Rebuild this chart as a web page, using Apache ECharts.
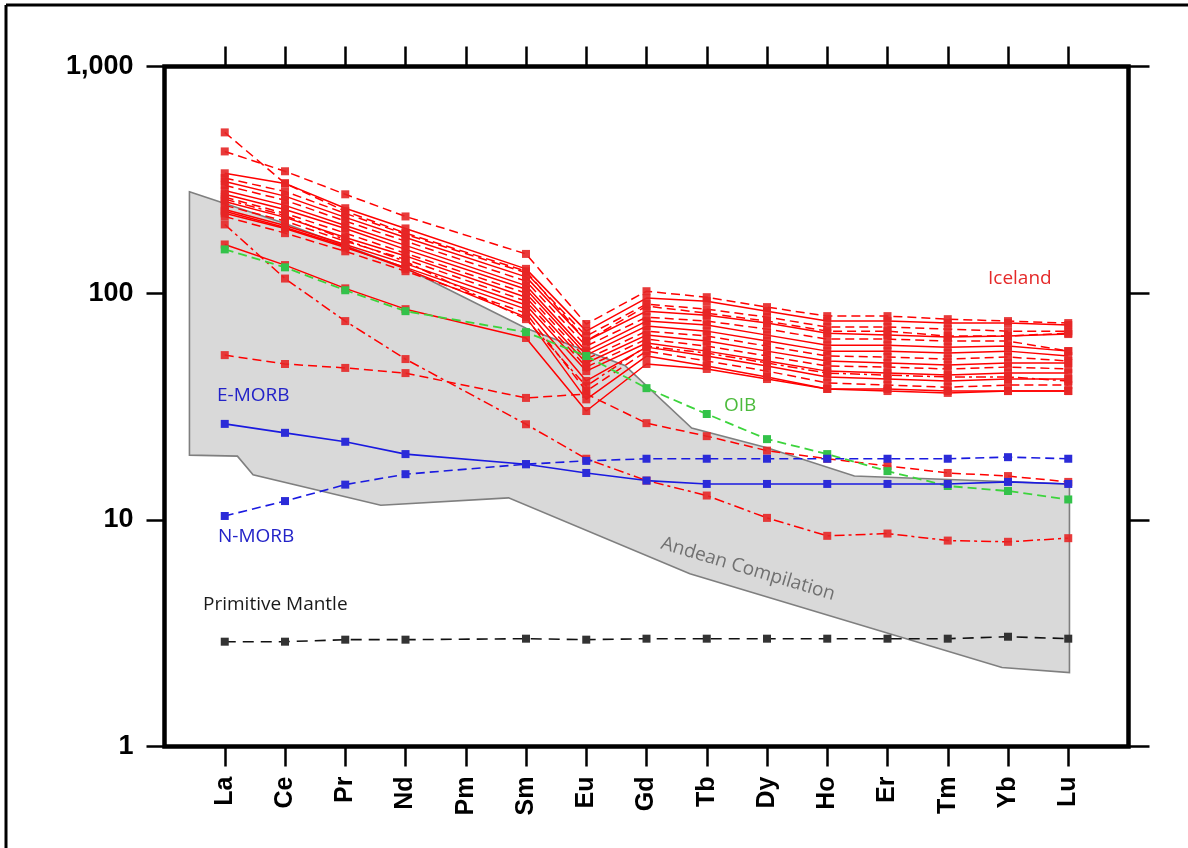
<!DOCTYPE html>
<html>
<head>
<meta charset="utf-8">
<script src="https://cdn.jsdelivr.net/npm/echarts@6/dist/echarts.min.js"></script>
<style>
  html, body { margin: 0; padding: 0; background: #fff; }
  #chart { width: 1188px; height: 848px; }
</style>
</head>
<body>
<div id="chart"></div>
<script>
// Rare earth elements, chondrite-normalised (Pm not analysed)
const ELEMENTS = ['La','Ce','Pr','Nd','Pm','Sm','Eu','Gd','Tb','Dy','Ho','Er','Tm','Yb','Lu'];
const Y_TICKS = [1, 10, 100, 1000];

// Iceland basalt samples (one array per sample, in ELEMENTS order)
const ICELAND = [
  [512, 305, 230, 184, null, 125, 61.5, 87.7, 81.6, 75.3, 68, 68, 64.7, 64.7, 66.6],
  [422, 345, 273, 218, null, 149, 73.1, 102, 96, 86.8, 79.2, 79.2, 76.8, 75.3, 73.8],
  [338, 305, 237, 193, null, 128, 68, 95.1, 92.2, 83.3, 75.3, 75.3, 73.8, 73.8, 72.3],
  [322, 281, 225, 182, null, 123, 64.7, 89.5, 85, 78.4, 70.9, 70.9, 69.4, 68, 68],
  [311, 268, 216, 176, null, 118, 61.5, 83.3, 80, 73.8, 66.6, 65.3, 64, 64.7, 66],
  [299, 257, 208, 169.5, null, 113, 58.4, 78.4, 75.3, 69.4, 62.7, 62.7, 61.5, 61.5, 55.5],
  [284, 244, 199, 162.5, null, 108, 55.5, 75.3, 72.3, 65.3, 58.9, 58.9, 57.8, 58.4, 55.5],
  [273, 234, 193, 156, null, 104, 53.3, 71.6, 68, 61.5, 55.5, 55.5, 54.4, 55.5, 52.8],
  [265, 225, 184, 150, null, 100, 51.2, 68, 64.7, 58.4, 52.8, 52.3, 51.2, 52.3, 50.2],
  [254, 216, 176, 146, null, 96, 49.2, 65.3, 61.5, 55.5, 50.2, 49.2, 48.2, 49.2, 49.2],
  [244, 208, 169.5, 141, null, 92.2, 47.2, 62.7, 58.4, 52.8, 47.7, 47.2, 46.3, 47.2, 46.3],
  [234, 199, 164, 135, null, 88.6, 45.3, 60.3, 55.5, 50.2, 45.3, 44.4, 43.5, 44.4, 44.4],
  [225, 193, 159, 130, null, 85, 41, 57.8, 52.8, 47.7, 42.7, 41.8, 41, 41.8, 41.8],
  [218, 184, 153, 125, null, 81.6, 37, 55.5, 50.2, 45.3, 40.2, 39.3, 38.5, 39.3, 39.3],
  [230, 195, 161, 128, null, 78.4, 34, 52.8, 47.7, 42.7, 37.8, 37.8, 37, 37, 37],
  [260, 220, 172, 138, null, 76.8, 38.9, 58.4, 54.4, 49.2, 44.4, 43.5, 42.7, 42.7, 41],
  [164, 133, 105, 85, null, 63.4, 30.2, 48.7, 46.3, 41.8, 37.8, 37, 36.3, 37, 37],
  [201, 116, 75.3, 51.2, null, 26.4, 18.6, 14.9, 12.8, 10.2, 8.5, 8.7, 8.1, 8.0, 8.3],
  [53.3, 48.7, 46.8, 44.4, null, 34.5, 35.9, 26.7, 23.4, 20.2, 18.6, 17.3, 16.1, 15.6, 14.7]
];
const ICELAND_LINE = ['dashed','dashed','solid','dashed','solid','dashed','solid','solid','dashed','solid',
                      'dashed','solid','solid','dashed','solid','dashdot','solid','dashdot','dashed'];

const OIB    = [156, 130, 103, 83.3, null, 67.3, 52.8, 38.1, 29.3, 22.7, 19.5, 16.4, 14.1, 13.4, 12.3];
const E_MORB = [26.5, 24.2, 22.1, 19.5, null, 17.6, 16.1, 14.9, 14.4, 14.4, 14.4, 14.4, 14.4, 14.7, 14.4];
const N_MORB = [10.4, 12.1, 14.3, 15.9, null, 17.6, 18.2, 18.6, 18.6, 18.6, 18.6, 18.6, 18.6, 18.9, 18.6];
const PRIMITIVE_MANTLE = [2.90, 2.90, 2.96, 2.96, null, 2.99, 2.96, 2.99, 2.99, 2.99, 2.99, 2.99, 2.99, 3.05, 2.99];

// Andean compilation envelope: element position (La = 0) and normalised value
const ANDEAN_POS = [-0.586, 1, 3, 5, 6.64, 7.75, 9, 10.45, 14.02, 14.02, 12.9, 7.72, 4.71, 2.59, 0.47, 0.21, -0.586];
const ANDEAN_VAL = [280, 203, 129, 70, 48, 25.4, 20.8, 15.6, 14.4, 2.12, 2.23, 5.78, 12.5, 11.6, 15.8, 19.1, 19.3];

const DASHES = { solid: 'solid', dashed: [9, 5], dashdot: [10, 4, 3, 4], mantle: [11, 7] };
const IDX = ELEMENTS.map((_, i) => i);

function toPoints(vals) {
  return vals.map((v, i) => (v == null ? null : [i, v])).filter(Boolean);
}

function lineSeries(vals, color, dash, width, symbolColor) {
  return {
    type: 'line',
    data: toPoints(vals),
    symbol: 'rect',
    symbolSize: 8,
    showAllSymbol: true,
    lineStyle: { color: color, width: width, type: dash },
    itemStyle: { color: symbolColor || color },
    silent: true,
    animation: false,
    z: 3
  };
}

const series = [];

// grey envelope
series.push({
  type: 'custom',
  data: ANDEAN_POS.map((x, i) => [x, ANDEAN_VAL[i]]),
  renderItem: function (params, api) {
    if (params.dataIndex !== 0) return null;
    const pts = ANDEAN_POS.map((x, i) => api.coord([x, ANDEAN_VAL[i]]));
    return {
      type: 'polygon',
      shape: { points: pts },
      style: { fill: '#d9d9d9', stroke: '#7f7f7f', lineWidth: 1.6 }
    };
  },
  silent: true,
  animation: false,
  z: 1
});

ICELAND.forEach((vals, k) => {
  series.push(lineSeries(vals, '#ff0000', DASHES[ICELAND_LINE[k]], 1.5, 'rgba(230,38,38,0.9)'));
});
series.push(lineSeries(OIB, '#3cd43c', DASHES.dashed, 1.8, '#33c24a'));
series.push(lineSeries(E_MORB, '#1a1ae0', DASHES.solid, 1.6, '#2b2bd8'));
series.push(lineSeries(N_MORB, '#1a1ae0', DASHES.dashed, 1.6, '#2b2bd8'));
series.push(lineSeries(PRIMITIVE_MANTLE, '#111111', DASHES.mantle, 1.6, '#333333'));

const tickStyle = { color: '#000', width: 2.5 };
const labelFont = { color: '#000', fontWeight: 'bold', fontFamily: 'Liberation Sans, Arial, sans-serif' };

const option = {
  backgroundColor: '#fff',
  animation: false,
  grid: {
    left: 164.5, right: 59.5, top: 66.5, bottom: 101.5,
    show: true, borderColor: '#000', borderWidth: 4.5, backgroundColor: '#fff'
  },
  xAxis: [
    {
      type: 'value', min: -1, max: 15, position: 'bottom',
      axisLine: { show: false, onZero: false }, splitLine: { show: false },
      axisTick: { show: true, length: 20, lineStyle: tickStyle, customValues: IDX },
      axisLabel: Object.assign({
        customValues: IDX, formatter: v => ELEMENTS[Math.round(v)] || '',
        rotate: 90, margin: 30, fontSize: 25
      }, labelFont)
    },
    {
      type: 'value', min: -1, max: 15, position: 'top',
      axisLine: { show: false, onZero: false }, splitLine: { show: false },
      axisTick: { show: true, length: 20, lineStyle: tickStyle, customValues: IDX },
      axisLabel: { show: false }
    }
  ],
  yAxis: [
    {
      type: 'log', logBase: 10, min: Y_TICKS[0], max: Y_TICKS[Y_TICKS.length - 1], position: 'left',
      axisLine: { show: false, onZero: false }, splitLine: { show: false },
      axisTick: { show: true, length: 18, lineStyle: tickStyle },
      axisLabel: Object.assign({
        margin: 31, fontSize: 27,
        formatter: v => Math.round(v).toLocaleString('en-US')
      }, labelFont)
    },
    {
      type: 'log', logBase: 10, min: Y_TICKS[0], max: Y_TICKS[Y_TICKS.length - 1], position: 'right',
      axisLine: { show: false, onZero: false }, splitLine: { show: false },
      axisTick: { show: true, length: 21, lineStyle: tickStyle },
      axisLabel: { show: false }
    }
  ],
  series: series,
  graphic: [
    { type: 'line', z: 100, shape: { x1: 6, y1: 5, x2: 1188, y2: 5 }, style: { stroke: '#000', lineWidth: 3 } },
    { type: 'line', z: 100, shape: { x1: 6, y1: 5, x2: 6, y2: 848 }, style: { stroke: '#000', lineWidth: 3 } },
    { type: 'text', z: 100, x: 988, y: 279,
      style: { text: 'Iceland', fill: '#e52a2a', font: '19px "Open Sans"', align: 'left', verticalAlign: 'middle' } },
    { type: 'text', z: 100, x: 724, y: 406,
      style: { text: 'OIB', fill: '#4cbb3c', font: '19px "Open Sans"', align: 'left', verticalAlign: 'middle' } },
    { type: 'text', z: 100, x: 217, y: 396,
      style: { text: 'E-MORB', fill: '#2323c8', font: '19px "Open Sans"', align: 'left', verticalAlign: 'middle' } },
    { type: 'text', z: 100, x: 218, y: 537,
      style: { text: 'N-MORB', fill: '#2323c8', font: '19px "Open Sans"', align: 'left', verticalAlign: 'middle' } },
    { type: 'text', z: 100, x: 203, y: 605,
      style: { text: 'Primitive Mantle', fill: '#1a1a1a', font: '19px "Open Sans"', align: 'left', verticalAlign: 'middle' } },
    { type: 'text', z: 100, x: 748, y: 569, rotation: -0.29,
      style: { text: 'Andean Compilation', fill: '#707070', font: '19px "Open Sans"', align: 'center', verticalAlign: 'middle' } }
  ]
};

const chart = echarts.init(document.getElementById('chart'), null, { renderer: 'canvas' });
chart.setOption(option);
</script>
</body>
</html>
